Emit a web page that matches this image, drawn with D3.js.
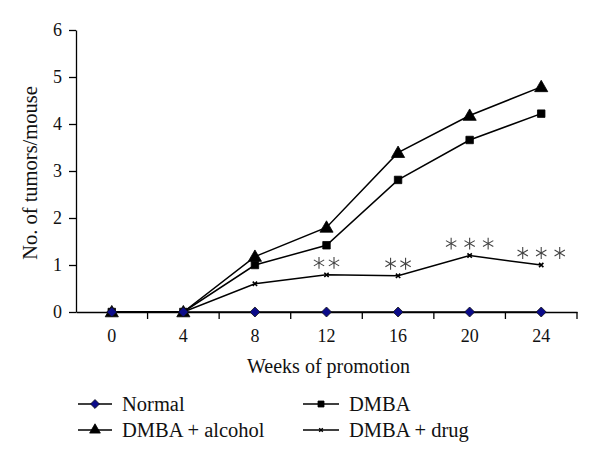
<!DOCTYPE html>
<html>
<head>
<meta charset="utf-8">
<script src="https://cdn.jsdelivr.net/npm/d3@7"></script>
<style>
  body { margin: 0; background: #fff; }
  svg text { font-family: "Liberation Serif", serif !important; fill: #111; }
  .domain, .tick line { stroke: #000; stroke-width: 1.3; }
</style>
</head>
<body>
<script>
const width = 600,
      height = 462;

// data
const weeks = [0, 4, 8, 12, 16, 20, 24];
const normal = [0, 0, 0, 0, 0, 0, 0];
const dmba = [0, 0, 1.0, 1.42, 2.81, 3.66, 4.22];
const dmbaAlcohol = [0, 0, 1.18, 1.8, 3.39, 4.18, 4.79];
const dmbaDrug = [0, 0, 0.6, 0.79, 0.77, 1.2, 1.0];
const yTicks = [0, 1, 2, 3, 4, 5, 6];
// significance stars over the drug series
const starWeeks = [12, 16, 20, 24];
const starCounts = [2, 2, 3, 3];

const margin = {left: 76, right: 23, top: 30, bottom: 150};
const serif = "'Liberation Serif', serif";

var svg = d3.select("body").append("svg")
	.attr("width", width)
	.attr("height", height)
	.attr("font-family", serif);

var x = d3.scaleBand()
	.domain(weeks)
	.range([margin.left, width - margin.right]);

var y = d3.scaleLinear()
	.domain([0, 6])
	.range([height - margin.bottom, margin.top]);

var cx = function (w) { return x(w) + x.bandwidth() / 2 };

// rotated square, like the excel diamond
var diamond = {
	draw: function (ctx, size) {
		var r = Math.sqrt(size / 2);
		ctx.moveTo(0, -r);
		ctx.lineTo(r, 0);
		ctx.lineTo(0, r);
		ctx.lineTo(-r, 0);
		ctx.closePath();
	}
};

// y axis
svg.append("g")
	.attr("transform", "translate(" + margin.left + ",0)")
	.call(d3.axisLeft(y).tickValues(yTicks).tickFormat(d3.format("d")).tickSize(7).tickSizeOuter(0).tickPadding(7))
	.attr("font-family", serif)
	.call(g => g.selectAll("text").style("font-size", "18px"));

// x axis: labels at band centers, ticks at band edges
var xg = svg.append("g")
	.attr("transform", "translate(0," + y(0) + ")")
	.call(d3.axisBottom(x).tickSize(0).tickPadding(17))
	.attr("font-family", serif)
	.call(g => g.selectAll("text").style("font-size", "18px"));

xg.selectAll(".edge")
	.data(weeks.slice(1).map(w => x(w)).concat([x.range()[1]]))
	.enter().append("line")
	.attr("class", "edge")
	.attr("x1", d => d).attr("x2", d => d)
	.attr("y1", 0).attr("y2", 7)
	.attr("stroke", "#000")
	.attr("stroke-width", 1.3);

// axis titles
svg.append("text")
	.attr("x", (x.range()[0] + x.range()[1]) / 2 + 2)
	.attr("y", 373)
	.attr("text-anchor", "middle")
	.style("font-size", "20px")
	.text("Weeks of promotion");

svg.append("text")
	.attr("transform", "translate(37," + ((y(0) + y(6)) / 2 + 2) + ") rotate(-90)")
	.attr("text-anchor", "middle")
	.style("font-size", "20.5px")
	.text("No. of tumors/mouse");

var series = [
	{name: "DMBA + drug", values: dmbaDrug, symbol: d3.symbolTimes, size: 14, fill: "none", stroke: "#000"},
	{name: "DMBA", values: dmba, symbol: d3.symbolSquare, size: 56, fill: "#000", stroke: "#000"},
	{name: "DMBA + alcohol", values: dmbaAlcohol, symbol: d3.symbolTriangle, size: 75, fill: "#000", stroke: "#000"},
	{name: "Normal", values: normal, symbol: diamond, size: 50, fill: "#0b0b8a", stroke: "#111"}
];

var line = d3.line()
	.x((d, i) => cx(weeks[i]))
	.y(d => y(d));

series.forEach(function (s) {
	svg.append("path")
		.datum(s.values)
		.attr("d", line)
		.attr("fill", "none")
		.attr("stroke", "#000")
		.attr("stroke-width", 1.5);

	svg.selectAll(null)
		.data(s.values)
		.enter().append("path")
		.attr("transform", (d, i) => "translate(" + cx(weeks[i]) + "," + (y(d) + (s.symbol === d3.symbolTriangle ? 1 : 0)) + ")")
		.attr("d", d3.symbol().type(s.symbol).size(s.size))
		.attr("fill", s.fill)
		.attr("stroke", s.stroke)
		.attr("stroke-width", s.symbol === d3.symbolTimes ? 1.6 : 0.8);
});

// asterisks
starWeeks.forEach(function (w, k) {
	var n = starCounts[k],
		gap = n === 2 ? 15 : 18.5,
		v = dmbaDrug[weeks.indexOf(w)];
	d3.range(n).forEach(function (j) {
		svg.append("path")
			.attr("transform", "translate(" + (cx(w) + (j - (n - 1) / 2) * gap) + "," + (y(v) - 12) + ")")
			.attr("d", d3.symbol().type(d3.symbolAsterisk).size(100))
			.attr("fill", "none")
			.attr("stroke", "#444")
			.attr("stroke-width", 1.1);
	});
});

// legend
var legendItems = [
	{s: series[3], x: 78, y: 404, len: 34, msize: 40},
	{s: series[1], x: 303, y: 404, len: 36, msize: 36},
	{s: series[2], x: 78, y: 430, len: 34, msize: 50},
	{s: series[0], x: 303, y: 430, len: 36, msize: 10}
];

var leg = svg.selectAll(".legend")
	.data(legendItems)
	.enter().append("g")
	.attr("class", "legend")
	.attr("transform", d => "translate(" + d.x + "," + d.y + ")");

leg.append("line")
	.attr("x1", 0).attr("x2", d => d.len)
	.attr("stroke", "#000")
	.attr("stroke-width", 1.5);

leg.append("path")
	.attr("transform", d => "translate(" + d.len / 2 + ",0)")
	.attr("d", d => d3.symbol().type(d.s.symbol).size(d.msize)())
	.attr("fill", d => d.s.fill)
	.attr("stroke", d => d.s.stroke)
	.attr("stroke-width", d => d.s.symbol === d3.symbolTimes ? 1.4 : 0.8);

leg.append("text")
	.attr("x", d => d.len + 10)
	.attr("dy", "0.34em")
	.style("font-size", "20.5px")
	.text(d => d.s.name);
</script>
</body>
</html>
